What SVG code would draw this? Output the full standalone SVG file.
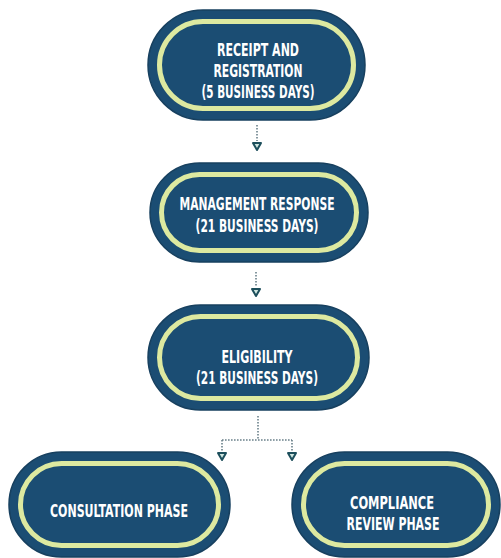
<svg xmlns="http://www.w3.org/2000/svg" width="501" height="558" viewBox="0 0 501 558">
  <defs>
    <style>
      .pill { fill: #1b4d73; stroke: #17405f; stroke-width: 1.5; }
      .ring { fill: none; stroke: #dde9a0; stroke-width: 5; }
      .lbl { fill: #ffffff; font-family: "Liberation Sans Narrow", "DejaVu Sans Condensed", "Liberation Sans", sans-serif; font-weight: bold; font-size: 18px; text-anchor: middle; }
      .conn { fill: none; stroke: #6a808a; stroke-width: 1.6; stroke-dasharray: 1.6 1.4; }
      .tip { fill: #cfe6e0; stroke: #1d4f5c; stroke-width: 2; stroke-linejoin: round; }
    </style>
  </defs>
  <rect width="501" height="558" fill="#ffffff"/>

  <g id="connectors">
    <path class="conn" d="M257 125 V141"/>
    <path class="tip" d="M253 143 H261 L257 150 Z"/>
    <path class="conn" d="M256 272 V287"/>
    <path class="tip" d="M252 289 H260 L256 296 Z"/>
    <path class="conn" d="M258 416 V440 M222 440 H292 M222 440 V451 M292 440 V451"/>
    <path class="tip" d="M218 453 H226 L222 460 Z"/>
    <path class="tip" d="M288 453 H296 L292 460 Z"/>
  </g>

  <g id="node-receipt">
    <rect class="pill" x="148" y="10" width="217" height="110" rx="55"/>
    <rect class="ring" x="159.5" y="21.5" width="194" height="87" rx="43.5"/>
    <text class="lbl" x="258" y="56" textLength="82" lengthAdjust="spacingAndGlyphs">RECEIPT AND</text>
    <text class="lbl" x="258" y="77" textLength="89" lengthAdjust="spacingAndGlyphs">REGISTRATION</text>
    <text class="lbl" x="258" y="98" textLength="113" lengthAdjust="spacingAndGlyphs">(5 BUSINESS DAYS)</text>
  </g>

  <g id="node-management">
    <rect class="pill" x="150" y="163" width="218" height="99" rx="49.5"/>
    <rect class="ring" x="161.5" y="174.5" width="195" height="76" rx="38"/>
    <text class="lbl" x="257" y="210" textLength="155" lengthAdjust="spacingAndGlyphs">MANAGEMENT RESPONSE</text>
    <text class="lbl" x="257" y="232" textLength="123" lengthAdjust="spacingAndGlyphs">(21 BUSINESS DAYS)</text>
  </g>

  <g id="node-eligibility">
    <rect class="pill" x="148" y="305" width="221" height="105" rx="52.5"/>
    <rect class="ring" x="159.5" y="316.5" width="198" height="82" rx="41"/>
    <text class="lbl" x="257" y="363" textLength="71" lengthAdjust="spacingAndGlyphs">ELIGIBILITY</text>
    <text class="lbl" x="257" y="384" textLength="122" lengthAdjust="spacingAndGlyphs">(21 BUSINESS DAYS)</text>
  </g>

  <g id="node-consultation">
    <rect class="pill" x="9" y="452" width="221" height="105" rx="52.5"/>
    <rect class="ring" x="20.5" y="463.5" width="198" height="82" rx="41"/>
    <text class="lbl" x="119" y="517" textLength="138" lengthAdjust="spacingAndGlyphs">CONSULTATION PHASE</text>
  </g>

  <g id="node-compliance">
    <rect class="pill" x="292" y="452" width="208" height="105" rx="52.5"/>
    <rect class="ring" x="303.5" y="463.5" width="185" height="82" rx="41"/>
    <text class="lbl" x="392" y="509" textLength="84" lengthAdjust="spacingAndGlyphs">COMPLIANCE</text>
    <text class="lbl" x="393" y="530" textLength="93" lengthAdjust="spacingAndGlyphs">REVIEW PHASE</text>
  </g>
</svg>
